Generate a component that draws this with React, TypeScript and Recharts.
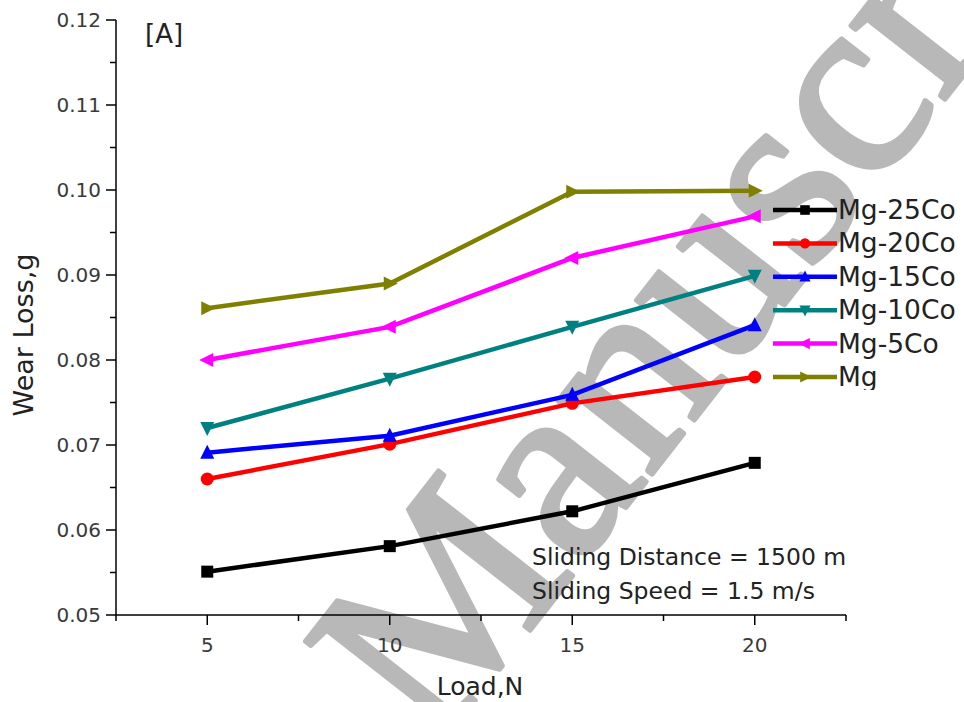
import React from 'react';
import { LineChart, Line, XAxis, YAxis, Legend, Customized } from 'recharts';

const LOADS = [5, 10, 15, 20];
const MG_25CO = [0.0551, 0.0581, 0.0622, 0.0679];
const MG_20CO = [0.066, 0.0701, 0.0749, 0.078];
const MG_15CO = [0.0691, 0.0711, 0.0759, 0.0841];
const MG_10CO = [0.072, 0.0778, 0.0839, 0.0899];
const MG_5CO = [0.08, 0.0839, 0.092, 0.0969];
const MG = [0.0861, 0.089, 0.0998, 0.0999];

const SERIES_NAMES = ['Mg-25Co', 'Mg-20Co', 'Mg-15Co', 'Mg-10Co', 'Mg-5Co', 'Mg'];
const SERIES_VALUES = [MG_25CO, MG_20CO, MG_15CO, MG_10CO, MG_5CO, MG];
const SERIES_COLORS = ['#000000', '#ff0000', '#0000ff', '#008080', '#ff00ff', '#808000'];
const SERIES_SHAPES = ['square', 'circle', 'up', 'down', 'left', 'right'];

const X_TICKS = [2.5, 5, 7.5, 10, 12.5, 15, 17.5, 20, 22.5];
const Y_TICKS = [0.05, 0.055, 0.06, 0.065, 0.07, 0.075, 0.08, 0.085, 0.09, 0.095, 0.1, 0.105, 0.11, 0.115, 0.12];

const PANEL_LABEL = '[A]';
const X_TITLE = 'Load,N';
const Y_TITLE = 'Wear Loss,g';
const NOTES = ['Sliding Distance = 1500 m', 'Sliding Speed = 1.5 m/s'];
const WATERMARK = 'Manuscript';

const FONT = '"DejaVu Sans", Arial, sans-serif';

const data = LOADS.map((load, i) => {
  const row: Record<string, number> = { load };
  SERIES_NAMES.forEach((n, s) => {
    row[n] = SERIES_VALUES[s][i];
  });
  return row;
});

function Marker({ shape, cx, cy, color, k = 1 }: { shape: string; cx: number; cy: number; color: string; k?: number }) {
  if (cx == null || cy == null) return null;
  const a = 8 * k;
  const b = 7 * k;
  switch (shape) {
    case 'square':
      return <rect x={cx - 6 * k} y={cy - 6 * k} width={12 * k} height={12 * k} fill={color} />;
    case 'circle':
      return <circle cx={cx} cy={cy} r={6.5 * k} fill={color} />;
    case 'up':
      return <polygon points={`${cx},${cy - a} ${cx - b},${cy + 6 * k} ${cx + b},${cy + 6 * k}`} fill={color} />;
    case 'down':
      return <polygon points={`${cx},${cy + a} ${cx - b},${cy - 6 * k} ${cx + b},${cy - 6 * k}`} fill={color} />;
    case 'left':
      return <polygon points={`${cx - a},${cy} ${cx + 6 * k},${cy - b} ${cx + 6 * k},${cy + b}`} fill={color} />;
    default:
      return <polygon points={`${cx + a},${cy} ${cx - 6 * k},${cy - b} ${cx - 6 * k},${cy + b}`} fill={color} />;
  }
}

const XTick = (props: any) => {
  const { x, y, payload } = props;
  const v = payload.value;
  const major = Math.abs(v - Math.round(v)) < 1e-6;
  return (
    <g>
      <line x1={x} x2={x} y1={y} y2={y + (major ? 10 : 6)} stroke="#000" strokeWidth={1.5} />
      {major && (
        <text x={x} y={y + 37} textAnchor="middle" fontSize={20} fill="#3a3a3a" fontFamily={FONT}>
          {v}
        </text>
      )}
    </g>
  );
};

const YTick = (props: any) => {
  const { x, y, payload } = props;
  const v = payload.value;
  const major = Math.round(v * 1000) % 10 === 0;
  return (
    <g>
      <line x1={x} x2={x - (major ? 10 : 6)} y1={y} y2={y} stroke="#000" strokeWidth={1.5} />
      {major && (
        <text x={x - 15} y={y + 7} textAnchor="end" fontSize={20} fill="#3a3a3a" fontFamily={FONT}>
          {v.toFixed(2)}
        </text>
      )}
    </g>
  );
};

const LegendContent = () => (
  <svg width={194} height={200} style={{ display: 'block' }}>
    {SERIES_NAMES.map((name, i) => {
      const cy = 20 + i * 33.4;
      return (
        <g key={name}>
          <line x1={3} x2={67} y1={cy} y2={cy} stroke={SERIES_COLORS[i]} strokeWidth={4.5} />
          <Marker shape={SERIES_SHAPES[i]} cx={35} cy={cy} color={SERIES_COLORS[i]} k={0.8} />
          <text x={68} y={cy + 9} fontSize={26.5} fill="#222" fontFamily={FONT}>
            {name}
          </text>
        </g>
      );
    })}
  </svg>
);

const Annotations = () => (
  <g fontFamily={FONT} fill="#222">
    <text x={145} y={43} fontSize={26}>{PANEL_LABEL}</text>
    <text transform="translate(33,335) rotate(-90)" textAnchor="middle" fontSize={27}>{Y_TITLE}</text>
    <text x={480} y={695} textAnchor="middle" fontSize={25}>{X_TITLE}</text>
    {NOTES.map((t, i) => (
      <text key={t} x={532} y={565 + i * 34} fontSize={23.5}>{t}</text>
    ))}
  </g>
);

export default function App() {
  return (
    <div style={{ position: 'absolute', left: 0, top: 0, width: 964, height: 702, background: '#fff', overflow: 'hidden' }}>
      <svg width={964} height={702} style={{ position: 'absolute', left: 0, top: 0 }}>
        <text
          transform="translate(435,752) rotate(-52)"
          fontFamily='"Liberation Serif", "DejaVu Serif", serif'
          fontSize={260}
          fill="#b8b8b8"
          stroke="#b8b8b8"
          strokeWidth={5}
          strokeLinejoin="round"
        >
          {WATERMARK}
        </text>
      </svg>
      <div style={{ position: 'absolute', left: 0, top: 0 }}>
        <LineChart width={964} height={702} data={data} margin={{ top: 20, right: 118, bottom: 57, left: 56 }}>
          <XAxis
            dataKey="load"
            type="number"
            domain={[2.5, 22.5]}
            ticks={X_TICKS}
            interval={0}
            height={30}
            tickSize={0}
            tickMargin={0}
            tickLine={false}
            axisLine={{ stroke: '#000', strokeWidth: 1.5 }}
            tick={<XTick />}
          />
          <YAxis
            type="number"
            domain={[0.05, 0.12]}
            ticks={Y_TICKS}
            interval={0}
            width={60}
            tickSize={0}
            tickMargin={0}
            tickLine={false}
            axisLine={{ stroke: '#000', strokeWidth: 1.5 }}
            tick={<YTick />}
            allowDataOverflow
          />
          {SERIES_NAMES.map((name, i) => (
            <Line
              key={name}
              dataKey={name}
              name={name}
              stroke={SERIES_COLORS[i]}
              strokeWidth={4.5}
              isAnimationActive={false}
              dot={(p: any) => (
                <Marker key={`${name}-${p.index}`} shape={SERIES_SHAPES[i]} cx={p.cx} cy={p.cy} color={SERIES_COLORS[i]} />
              )}
              activeDot={false}
            />
          ))}
          <Legend
            layout="vertical"
            align="center"
            verticalAlign="middle"
            content={<LegendContent />}
            wrapperStyle={{ position: 'absolute', left: 770, top: 190, width: 194, height: 200 }}
          />
          <Customized component={<Annotations />} />
        </LineChart>
      </div>
    </div>
  );
}
